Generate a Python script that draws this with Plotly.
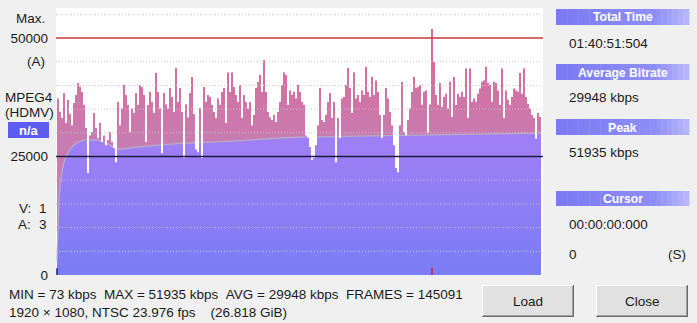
import plotly.graph_objects as go

# ---------------- data ----------------
bitrate_kbps = [
    37300, 34500, 33100, 38400, 32100, 36900, 34000, 31600, 36300, 38000,
    40500, 39700, 38600, 35900, 31000, 21500, 29500, 30200, 34200, 31000,
    28900, 32100, 28100, 29500, 27400, 28500, 30200, 28100, 26800, 23800,
    36500, 31600, 35200, 40100, 38000, 35900, 30200, 35200, 34200, 38400,
    35900, 40100, 39700, 38000, 28100, 35900, 38600, 36500, 34200, 42600,
    38600, 35200, 25700, 38400, 36000, 35200, 39500, 37600, 34400, 43700,
    36500, 39500,
    34400, 24700, 36000, 33300, 38400, 41800, 34000, 26500, 25900, 35300, 24700,
    39700, 36500, 38000, 37600, 35900, 34400, 33100, 37300, 35900, 38600,
    39500, 32100, 42800, 38600, 42800, 39700, 38000, 36500, 40100, 33100,
    38000, 36500, 35200, 36500, 31600, 33800, 39500, 40700, 42200, 38600,
    45400, 38600, 34400, 33300, 32700, 33800, 32300, 34400, 36500, 40100,
    42800, 42200, 35900, 39000, 38000, 38600, 37300, 40100,
    38600, 36500, 35900, 29500, 29000, 27000, 24300, 24700, 27400, 31600,
    39500, 32700, 32300, 33800, 36500, 38400, 33100, 36500, 23800, 33100,
    28900, 37300, 37600, 40100, 43700, 39500, 34200, 42800, 37300, 38000,
    36500, 39000, 38000, 43900, 38600, 37600, 41800, 38000, 41100, 38600,
    33800, 28900, 33800, 39500, 37300, 34400, 31600, 27400, 22600, 21700,
    31600, 40700, 30200, 29500, 32700, 35200, 38600, 41800, 39500, 39700,
    40100, 35900, 38700, 39000, 30000, 36000, 51935, 45000, 38000, 35900,
    40500, 35500, 37600, 38300, 35200, 40800, 33400, 41800, 35900, 38300,
    37600, 38700, 37600, 43600, 33100, 43600, 36600, 37300, 36600, 38300,
    39400, 40800, 41100, 44000, 40500, 40100, 36600, 40800, 40500, 39000,
    35900, 43600, 33100, 39000, 37000, 35900, 37600, 39400, 39000, 38700,
    42600, 38300, 43600, 37600, 36200, 35200, 33800, 33100, 28800, 34200,
    33400,
]

# running average (gray line), read at bar positions
avg_pos = [0, 0.5, 1, 2, 3, 4, 6, 8, 10, 12, 14, 20, 24, 27, 29, 31, 40, 60,
           72, 90, 111, 121, 150, 181, 210, 242]
avg_kbps = [3000, 12000, 16500, 20500, 23000, 24500, 26200, 27300, 27900,
            28300, 28500, 28500, 28000, 27300, 26700, 26500, 27000, 27700,
            27900, 28300, 28900, 29100, 29300, 29500, 29700, 29950]

y_tick_vals = [0, 25000, 50000]
y_tick_text = ["0", "25000", "50000"]
grid_step = 5000
max_line_kbps = 50000
ref_line_kbps = 25000
y_top = 56330

min_kbps, max_kbps, avg_total_kbps, frames = 73, 51935, 29948, 145091
video_info = "1920 × 1080, NTSC 23.976 fps\u00a0\u00a0\u00a0\u00a0(26.818 GiB)"
total_time = "01:40:51:504"
cursor_time = "00:00:00:000"
cursor_value = "0"
cursor_pos = 0
codec_lines = ["MPEG4", "(HDMV)"]
stream_counts = [("V:", 1), ("A:", 3)]

# ---------------- geometry ----------------
W, H = 697, 323
L, R, T, B = 56, 543, 8, 275
FONT = "Liberation Sans"
FS = 13.5


def px(x):
    return (x - L) / (R - L)


def py(y):
    return (B - y) / (B - T)


n = len(bitrate_kbps)
step_x = list(range(n + 1))
step_y = bitrate_kbps + [bitrate_kbps[-1]]
peak_idx = max(range(n), key=lambda i: bitrate_kbps[i])

fig = go.Figure()

# pink bitrate bars (stepped area)
fig.add_trace(go.Scatter(
    x=step_x, y=step_y, mode="lines", line=dict(width=0, shape="hv"),
    fill="tozeroy",
    fillgradient=dict(type="vertical",
                      colorscale=[[0, "#c77db3"], [1, "#d86c9b"]],
                      start=27000, stop=46000),
    hoverinfo="skip", showlegend=False))

# purple area under the running average
fig.add_trace(go.Scatter(
    x=avg_pos, y=avg_kbps, mode="lines",
    line=dict(color="#b7acc6", width=1.3),
    fill="tozeroy",
    fillgradient=dict(type="vertical",
                      colorscale=[[0, "#7a7df5"], [1, "#a07ff6"]],
                      start=0, stop=29000),
    hoverinfo="skip", showlegend=False))

# white above each bar (cuts dips through the average area)
fig.add_trace(go.Scatter(
    x=[0, n], y=[y_top * 1.05, y_top * 1.05], mode="lines",
    line=dict(width=0), hoverinfo="skip", showlegend=False))
fig.add_trace(go.Scatter(
    x=step_x, y=step_y, mode="lines", line=dict(width=0, shape="hv"),
    fill="tonexty", fillcolor="white", hoverinfo="skip", showlegend=False))

shapes = []
# dotted grid
g = grid_step
while g < y_top:
    if g not in (max_line_kbps, ref_line_kbps):
        shapes.append(dict(type="line", xref="x", yref="y", x0=-0.5, x1=n,
                           y0=g, y1=g, layer="above",
                           line=dict(color="#c6c6c6", width=1, dash="1px,2px")))
    g += grid_step
shapes.append(dict(type="line", xref="x", yref="y", x0=-0.5, x1=243.5,
                   y0=max_line_kbps, y1=max_line_kbps, layer="above",
                   line=dict(color="#c8383c", width=1.3)))
shapes.append(dict(type="line", xref="x", yref="y", x0=-0.5, x1=243.5,
                   y0=ref_line_kbps, y1=ref_line_kbps, layer="above",
                   line=dict(color="#1c1a3c", width=1.3)))
# peak marker and cursor marker at the bottom
shapes.append(dict(type="line", xref="x", yref="y", x0=peak_idx + 0.5,
                   x1=peak_idx + 0.5, y0=0, y1=1600, layer="above",
                   line=dict(color="#d0203c", width=1.5)))
shapes.append(dict(type="line", xref="x", yref="y", x0=cursor_pos,
                   x1=cursor_pos, y0=0, y1=1400, layer="above",
                   line=dict(color="#1a1a80", width=1.5)))


def rect(x0, y0, x1, y1, color, line=None):
    d = dict(type="rect", xref="paper", yref="paper", x0=px(x0), x1=px(x1),
             y0=py(y1), y1=py(y0), fillcolor=color, layer="above",
             line=dict(width=0) if line is None else line)
    shapes.append(d)


def hline(x0, x1, y, color):
    shapes.append(dict(type="line", xref="paper", yref="paper", x0=px(x0),
                       x1=px(x1), y0=py(y), y1=py(y),
                       line=dict(color=color, width=1)))


def vline(x, y0, y1, color):
    shapes.append(dict(type="line", xref="paper", yref="paper", x0=px(x),
                       x1=px(x), y0=py(y0), y1=py(y1),
                       line=dict(color=color, width=1)))


def mix(c0, c1, t):
    return "rgb(%d,%d,%d)" % tuple(round(a + (b - a) * t) for a, b in zip(c0, c1))


# header bars with horizontal gradient
headers = [("Total Time", 9, 25), ("Average Bitrate", 64, 80),
           ("Peak", 119, 135), ("Cursor", 191, 206)]
HX0, HX1 = 556, 689
NS = 24
for _, y0, y1 in headers:
    for k in range(NS):
        t = (k + 0.5) / NS
        if t < 0.75:
            col = mix((122, 121, 243), (143, 142, 247), t / 0.75)
        else:
            col = mix((143, 142, 247), (188, 186, 250), (t - 0.75) / 0.25)
        xa = HX0 + (HX1 - HX0) * k / NS
        xb = HX0 + (HX1 - HX0) * (k + 1) / NS + 0.4
        rect(xa, y0, xb, y1, col)

# n/a box
rect(8, 122, 49, 138, "#5c5cf2")

# buttons
for bx0, bx1 in [(482, 574), (596, 688)]:
    by0, by1 = 285, 317
    rect(bx0, by0, bx1, by1, "#e1e1e1")
    hline(bx0, bx1, by0 + 0.5, "#ffffff")
    vline(bx0 + 0.5, by0, by1, "#ffffff")
    hline(bx0, bx1, by1 - 0.5, "#6a6a6a")
    vline(bx1 - 0.5, by0, by1, "#6a6a6a")
    hline(bx0 + 1, bx1 - 1, by1 - 1.5, "#a0a0a0")
    vline(bx1 - 1.5, by0 + 1, by1 - 1, "#a0a0a0")

ann = []


def text(x, y, s, anchor="left", size=FS, color="#1a1a1a", bold=False):
    if bold:
        s = "<b>" + s + "</b>"
    ann.append(dict(x=px(x), y=py(y), xref="paper", yref="paper", text=s,
                    showarrow=False, xanchor=anchor, yanchor="middle",
                    font=dict(family=FONT, size=size, color=color)))


# left labels
text(47, 19, "Max.", "right")
text(47, 61, "(A)", "right")
text(29, 97, codec_lines[0], "center")
text(29, 113, codec_lines[1], "center")
text(28.5, 130, "n/a", "center", size=13, color="white", bold=True)
for (lab, cnt), yy in zip(stream_counts, [208, 224]):
    text(33, yy, lab, "right")
    text(49, yy, str(cnt), "right")

# right panel
for (lab, y0, y1) in headers:
    text((HX0 + HX1) / 2, (y0 + y1) / 2 + 0.5, lab, "center", size=12.2,
         color="white", bold=True)
text(567, 43, total_time)
text(567, 97, f"{avg_total_kbps} kbps")
text(567, 152, f"{max_kbps} kbps")
text(567, 224, cursor_time)
text(567, 254, cursor_value)
text(688, 254, "(S)", "right")

# bottom text
sp = "\u00a0\u00a0"
text(7, 294, f"MIN = {min_kbps} kbps{sp}MAX = {max_kbps} kbps{sp}"
             f"AVG = {avg_total_kbps} kbps{sp}FRAMES = {frames}")
text(7, 312, video_info)

# buttons text
text(528, 301, "Load", "center")
text(642, 301, "Close", "center")

fig.update_layout(
    width=W, height=H,
    margin=dict(l=L, r=W - R, t=T, b=H - B, pad=0),
    paper_bgcolor="#f0f0f0", plot_bgcolor="white",
    xaxis=dict(range=[-0.5, 243], visible=False, fixedrange=True),
    yaxis=dict(range=[0, y_top], showgrid=False, zeroline=False,
               showline=False, ticks="", tickvals=y_tick_vals,
               ticktext=y_tick_text, ticklabelstandoff=7,
               tickfont=dict(family=FONT, size=FS, color="#1a1a1a"),
               fixedrange=True),
    shapes=shapes, annotations=ann, showlegend=False,
)

fig.write_html("out.html", config={"displayModeBar": False})
